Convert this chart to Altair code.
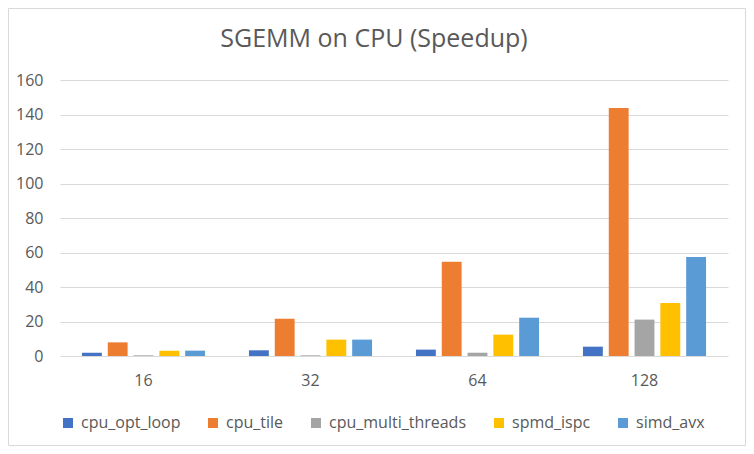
import altair as alt
import pandas as pd

sizes = ["16", "32", "64", "128"]
series = ["cpu_opt_loop", "cpu_tile", "cpu_multi_threads", "spmd_ispc", "simd_avx"]
cpu_opt_loop = [1.9, 3.3, 3.7, 5.4]
cpu_tile = [7.9, 21.6, 54.7, 143.8]
cpu_multi_threads = [0.4, 0.4, 1.9, 21.1]
spmd_ispc = [3.1, 9.5, 12.4, 30.7]
simd_avx = [3.1, 9.5, 22.2, 57.4]
colors = ["#4472C4", "#ED7D31", "#A5A5A5", "#FFC000", "#5B9BD5"]
y_ticks = [0, 20, 40, 60, 80, 100, 120, 140, 160]
title_text = "SGEMM on CPU (Speedup)"

rows = []
for name, vals in zip(series, [cpu_opt_loop, cpu_tile, cpu_multi_threads, spmd_ispc, simd_avx]):
    for s, v in zip(sizes, vals):
        rows.append({"size": s, "series": name, "speedup": v})
df = pd.DataFrame(rows)

FONT = "Open Sans"
TXT = "#595959"

bars = alt.Chart(df).mark_bar().encode(
    x=alt.X("size:N", sort=sizes,
            scale=alt.Scale(paddingInner=0.263, paddingOuter=0.1315),
            axis=alt.Axis(title=None, labelAngle=0, domain=False, ticks=False,
                          labelPadding=16, labelFontSize=16, labelColor=TXT,
                          labelFont=FONT)),
    xOffset=alt.XOffset("series:N", sort=series,
                        scale=alt.Scale(paddingInner=0.23, paddingOuter=0)),
    y=alt.Y("speedup:Q", scale=alt.Scale(domain=[0, 160], nice=False),
            axis=alt.Axis(values=y_ticks, title=None, domain=False, ticks=False,
                          grid=True, gridColor="#d9d9d9", gridWidth=1,
                          labelPadding=17, labelFontSize=16, labelColor=TXT,
                          labelFont=FONT)),
    color=alt.Color("series:N", sort=series,
                    scale=alt.Scale(domain=series, range=colors),
                    legend=alt.Legend(title=None, orient="none", direction="horizontal",
                                      legendX=0, legendY=335, symbolType="square",
                                      symbolSize=100, symbolStrokeWidth=0,
                                      labelFontSize=16, labelFont=FONT, labelColor=TXT,
                                      labelOffset=5, columnPadding=24, padding=0)),
)

border = alt.Chart(alt.Data(values=[{}])).mark_rect(
    fill=None, stroke="#d9d9d9", strokeWidth=1
).encode(
    x=alt.value(-51.5), x2=alt.value(685.5), y=alt.value(-71.5), y2=alt.value(365.5)
)

title = alt.Chart(alt.Data(values=[{"t": title_text}])).mark_text(
    font=FONT, fontSize=25, color=TXT, align="center", baseline="alphabetic"
).encode(
    text="t:N", x=alt.value(314), y=alt.value(-33)
)

chart = alt.layer(border, bars, title).properties(
    width=668, height=276,
    autosize=alt.AutoSizeParams(type="none"),
    padding={"left": 52, "top": 72, "right": 18, "bottom": 90},
    background="white",
).configure_view(stroke=None)

chart.save("out.html", embed_options={"renderer": "svg", "actions": False})
